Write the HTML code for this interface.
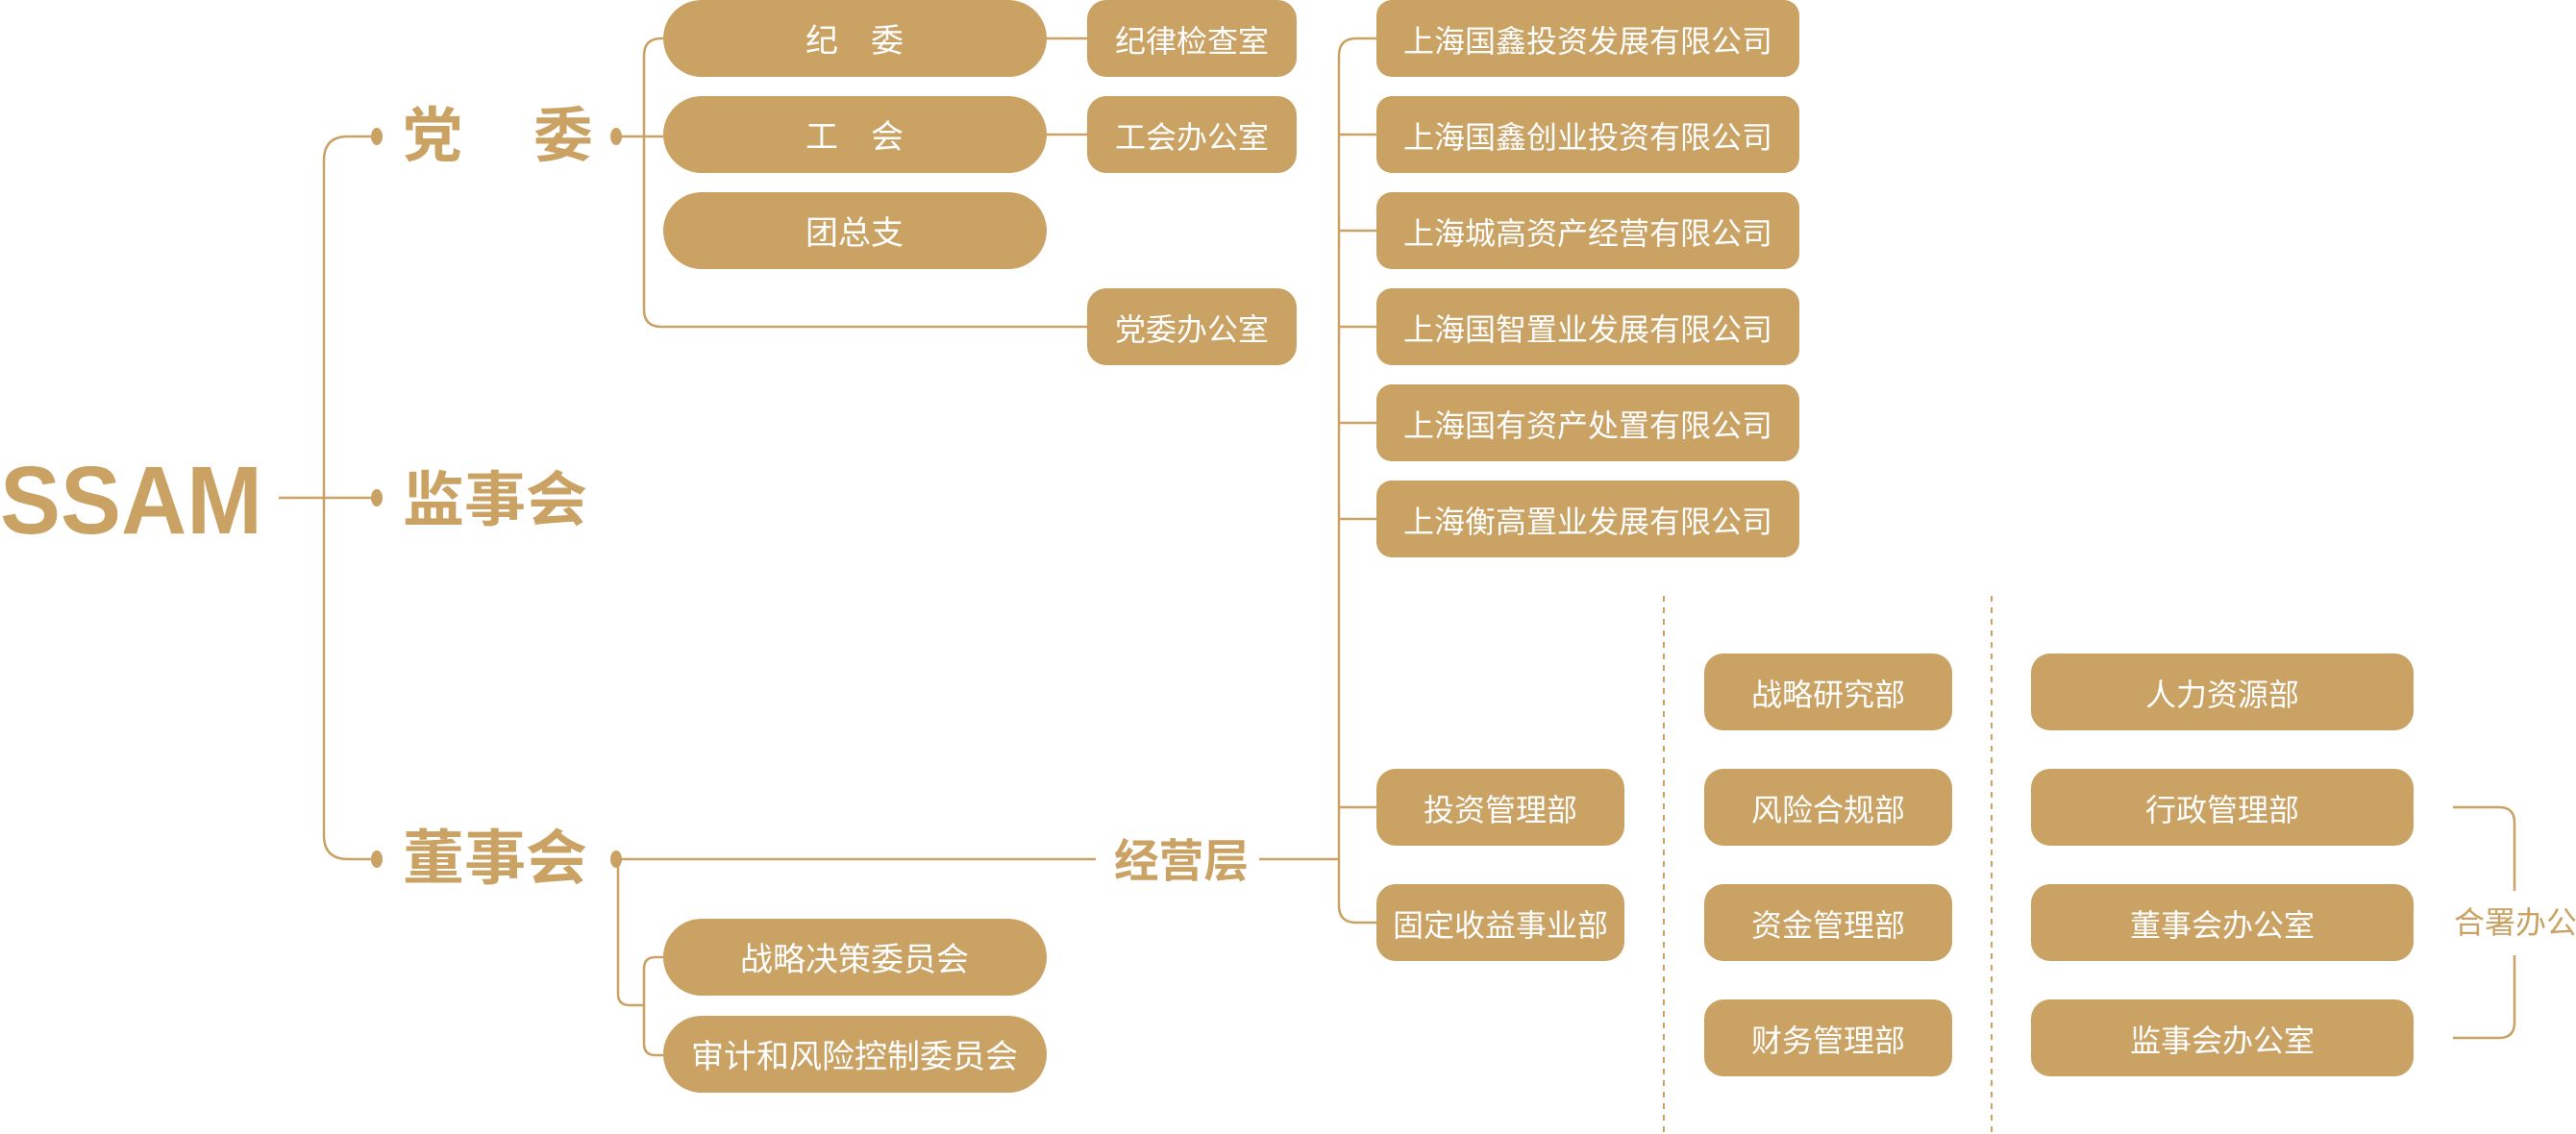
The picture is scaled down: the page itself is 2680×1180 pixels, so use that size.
<!DOCTYPE html>
<html><head><meta charset="utf-8"><style>
html,body{margin:0;padding:0;background:#fff;}
svg{display:block;}
text{font-family:"Liberation Sans","Noto Sans CJK SC",sans-serif;}
.b{fill:#c9a264;}
.t{fill:#fff;font-size:32px;text-anchor:middle;dominant-baseline:central;transform:translateY(3px);}
.t1{fill:#fff;font-size:34px;text-anchor:middle;dominant-baseline:central;transform:translateY(3px);}
.h{fill:#c9a264;font-weight:bold;font-size:62px;dominant-baseline:central;}
.l{fill:none;stroke:#c9a264;stroke-width:2.5;}
</style></head><body>
<svg width="2680" height="1180" viewBox="0 0 2680 1180" xmlns="http://www.w3.org/2000/svg">
<path class="l" d="M290,518 H395"/>
<path class="l" d="M395,142 H362 Q337,142 337,167 V869 Q337,894 362,894 H395"/>
<path class="l" d="M643,142 H690"/>
<path class="l" d="M690,40 H688 Q670,40 670,58 V322 Q670,340 688,340 H1131"/>
<path class="l" d="M1089,40 H1131 M1089,140 H1131"/>
<path class="l" d="M1432,40 H1411 Q1393,40 1393,58 V942 Q1393,960 1411,960 H1432"/>
<path class="l" d="M1393,140 H1432 M1393,240 H1432 M1393,340 H1432 M1393,440 H1432 M1393,540 H1432 M1393,840 H1432"/>
<path class="l" d="M643,894 H1140 M1310,894 H1393"/>
<path class="l" d="M643,894 V1034 Q643,1046 655,1046 H670"/>
<path class="l" d="M690,996 H682 Q670,996 670,1008 V1086 Q670,1098 682,1098 H690"/>
<path class="l" d="M2552,840 H2600 Q2616,840 2616,856 V927 M2616,994 V1064 Q2616,1080 2600,1080 H2552"/>
<path d="M1731,620 V1180 M2072,620 V1180" fill="none" stroke="#c9a264" stroke-width="2" stroke-dasharray="6,6"/>
<ellipse class="b" cx="392" cy="142" rx="6" ry="9"/>
<ellipse class="b" cx="392" cy="518" rx="6" ry="9"/>
<ellipse class="b" cx="392" cy="894" rx="6" ry="9"/>
<ellipse class="b" cx="641" cy="142" rx="6" ry="9"/>
<ellipse class="b" cx="641" cy="894" rx="6" ry="9"/>
<text x="0" y="521" font-family="Liberation Sans" font-weight="bold" font-size="100" fill="#c9a264" dominant-baseline="central" textLength="273" lengthAdjust="spacingAndGlyphs">SSAM</text>
<text class="h" x="419" y="142">党</text>
<text class="h" x="555" y="142">委</text>
<text class="h" x="419" y="521" textLength="192" lengthAdjust="spacingAndGlyphs">监事会</text>
<text class="h" x="419" y="894" textLength="192" lengthAdjust="spacingAndGlyphs">董事会</text>
<text class="h" x="1159" y="896" style="font-size:47px" textLength="140" lengthAdjust="spacingAndGlyphs">经营层</text>
<text x="2553" y="960" fill="#c9a264" font-size="32" dominant-baseline="central">合署办公</text>
<rect class="b" x="690" y="0" width="399" height="80" rx="40"/><text class="t1" x="889" y="40">纪　委</text>
<rect class="b" x="690" y="100" width="399" height="80" rx="40"/><text class="t1" x="889" y="140">工　会</text>
<rect class="b" x="690" y="200" width="399" height="80" rx="40"/><text class="t1" x="889" y="240">团总支</text>
<rect class="b" x="690" y="956" width="399" height="80" rx="40"/><text class="t1" x="889" y="996">战略决策委员会</text>
<rect class="b" x="690" y="1057" width="399" height="80" rx="40"/><text class="t1" x="889" y="1097">审计和风险控制委员会</text>
<rect class="b" x="1131" y="0" width="218" height="80" rx="20"/><text class="t" x="1240" y="40">纪律检查室</text>
<rect class="b" x="1131" y="100" width="218" height="80" rx="20"/><text class="t" x="1240" y="140">工会办公室</text>
<rect class="b" x="1131" y="300" width="218" height="80" rx="20"/><text class="t" x="1240" y="340">党委办公室</text>
<rect class="b" x="1432" y="0" width="440" height="80" rx="16"/><text class="t" x="1652" y="40">上海国鑫投资发展有限公司</text>
<rect class="b" x="1432" y="100" width="440" height="80" rx="16"/><text class="t" x="1652" y="140">上海国鑫创业投资有限公司</text>
<rect class="b" x="1432" y="200" width="440" height="80" rx="16"/><text class="t" x="1652" y="240">上海城高资产经营有限公司</text>
<rect class="b" x="1432" y="300" width="440" height="80" rx="16"/><text class="t" x="1652" y="340">上海国智置业发展有限公司</text>
<rect class="b" x="1432" y="400" width="440" height="80" rx="16"/><text class="t" x="1652" y="440">上海国有资产处置有限公司</text>
<rect class="b" x="1432" y="500" width="440" height="80" rx="16"/><text class="t" x="1652" y="540">上海衡高置业发展有限公司</text>
<rect class="b" x="1432" y="800" width="258" height="80" rx="20"/><text class="t" x="1561" y="840">投资管理部</text>
<rect class="b" x="1432" y="920" width="258" height="80" rx="20"/><text class="t" x="1561" y="960">固定收益事业部</text>
<rect class="b" x="1773" y="680" width="258" height="80" rx="20"/><text class="t" x="1902" y="720">战略研究部</text>
<rect class="b" x="1773" y="800" width="258" height="80" rx="20"/><text class="t" x="1902" y="840">风险合规部</text>
<rect class="b" x="1773" y="920" width="258" height="80" rx="20"/><text class="t" x="1902" y="960">资金管理部</text>
<rect class="b" x="1773" y="1040" width="258" height="80" rx="20"/><text class="t" x="1902" y="1080">财务管理部</text>
<rect class="b" x="2113" y="680" width="398" height="80" rx="20"/><text class="t" x="2312" y="720">人力资源部</text>
<rect class="b" x="2113" y="800" width="398" height="80" rx="20"/><text class="t" x="2312" y="840">行政管理部</text>
<rect class="b" x="2113" y="920" width="398" height="80" rx="20"/><text class="t" x="2312" y="960">董事会办公室</text>
<rect class="b" x="2113" y="1040" width="398" height="80" rx="20"/><text class="t" x="2312" y="1080">监事会办公室</text>
</svg>
</body></html>
